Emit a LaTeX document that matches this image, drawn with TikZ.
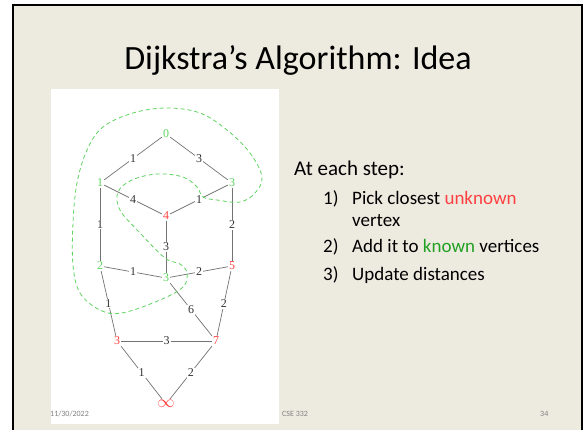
\documentclass[tikz,border=0pt]{standalone}
\usepackage{fontspec}
\setmainfont{Carlito}
\newfontfamily\graphfont{Liberation Serif}
\definecolor{slidebg}{HTML}{EDEAE0}
\definecolor{knowngreen}{HTML}{5FD35F}
\definecolor{unkred}{HTML}{FF4040}
\definecolor{txtgreen}{HTML}{22A022}
\begin{document}
\begin{tikzpicture}[x=1pt, y=-1pt,
    vtx/.style={font=\graphfont\fontsize{12}{12}\selectfont, inner sep=1pt, fill=white},
    known/.style={vtx, text=knowngreen},
    unknown/.style={vtx, text=unkred},
    wt/.style={font=\graphfont\fontsize{12}{12}\selectfont, inner sep=1pt, fill=white, text=black!80},
    edge/.style={draw=black!55, line width=0.7pt},
    item/.style={anchor=base west, font=\fontsize{19}{19}\selectfont, inner sep=0pt}]
    \useasboundingbox (0,0) rectangle (585,429);

    % 1. Nen slide va khung
    \fill[white] (0,0) rectangle (585,429);
    \begin{scope}
        \clip (0,0) rectangle (585,429);
        \draw[fill=slidebg, line width=2.5pt] (13,5) rectangle (582,440);
    \end{scope}
    \fill[white] (51,89) rectangle (279,424);

    % 2. Tieu de
    \node[anchor=base, font=\fontsize{34}{34}\selectfont, inner sep=0pt] (title) at (298,69) {Dijkstra’s Algorithm: Idea};

    % 3. Cac dinh cua do thi
    \node[known]   (n0)   at (166,134) {0};
    \node[known]   (n1)   at (100,183) {1};
    \node[known]   (n3a)  at (232,183) {3};
    \node[unknown] (n4)   at (166,216) {4};
    \node[known]   (n2)   at (100,266) {2};
    \node[known]   (n3b)  at (166,278) {3};
    \node[unknown] (n5)   at (232,266) {5};
    \node[unknown] (n3c)  at (117,341) {3};
    \node[unknown] (n7)   at (216,341) {7};
    \node[unknown, font=\fontsize{16}{16}\selectfont] (ninf) at (166,404) {$\infty$};

    % 4. Cac canh va trong so
    \path[edge] (n0) -- node[wt] {1} (n1);
    \path[edge] (n0) -- node[wt] {3} (n3a);
    \path[edge] (n1) -- node[wt] {4} (n4);
    \path[edge] (n3a) -- node[wt] {1} (n4);
    \path[edge] (n1) -- node[wt] {1} (n2);
    \path[edge] (n3a) -- node[wt] {2} (n5);
    \path[edge] (n4) -- node[wt] {3} (n3b);
    \path[edge] (n2) -- node[wt] {1} (n3b);
    \path[edge] (n3b) -- node[wt] {2} (n5);
    \path[edge] (n2) -- node[wt] {1} (n3c);
    \path[edge] (n3b) -- node[wt] {6} (n7);
    \path[edge] (n5) -- node[wt] {2} (n7);
    \path[edge] (n3c) -- node[wt] {3} (n7);
    \path[edge] (n3c) -- node[wt] {1} (ninf);
    \path[edge] (n7) -- node[wt] {2} (ninf);

    % 5. Duong net dut bao cac dinh da biet
    \draw[knowngreen, line width=0.8pt, dash pattern=on 4pt off 3pt]
        plot[smooth cycle, tension=0.6] coordinates {
        (73,265) (80,293) (100,310) (122,313) (160,300) (183,287) (187,273)
        (180,264) (165,258) (140,233) (120,210) (118,192) (132,180) (157,174)
        (183,177) (197,187) (203,197) (217,200) (240,202) (255,193) (262,177)
        (250,153) (227,130) (200,113) (167,108) (133,113) (103,127) (87,150)
        (77,183) (73,223)};

    % 6. Noi dung ben phai
    \node[item, font=\fontsize{21}{21}\selectfont] (head) at (294,175) {At each step:};
    \node[item] (k1) at (323,204) {1)};
    \node[item] (s1) at (352,204) {Pick closest \textcolor{unkred}{unknown}};
    \node[item] (s1b) at (352,226) {vertex};
    \node[item] (k2) at (323,252) {2)};
    \node[item] (s2) at (352,252) {Add it to \textcolor{txtgreen}{known} vertices};
    \node[item] (k3) at (323,280) {3)};
    \node[item] (s3) at (352,280) {Update distances};

    % 7. Chan trang
    \node[anchor=base west, font=\fontsize{8}{8}\selectfont, text=black!50, inner sep=0pt] (date) at (50,416) {11/30/2022};
    \node[anchor=base west, font=\fontsize{8}{8}\selectfont, text=black!50, inner sep=0pt] (course) at (282,416) {CSE 332};
    \node[anchor=base west, font=\fontsize{8}{8}\selectfont, text=black!50, inner sep=0pt] (page) at (540,416) {34};

\end{tikzpicture}
\end{document}
